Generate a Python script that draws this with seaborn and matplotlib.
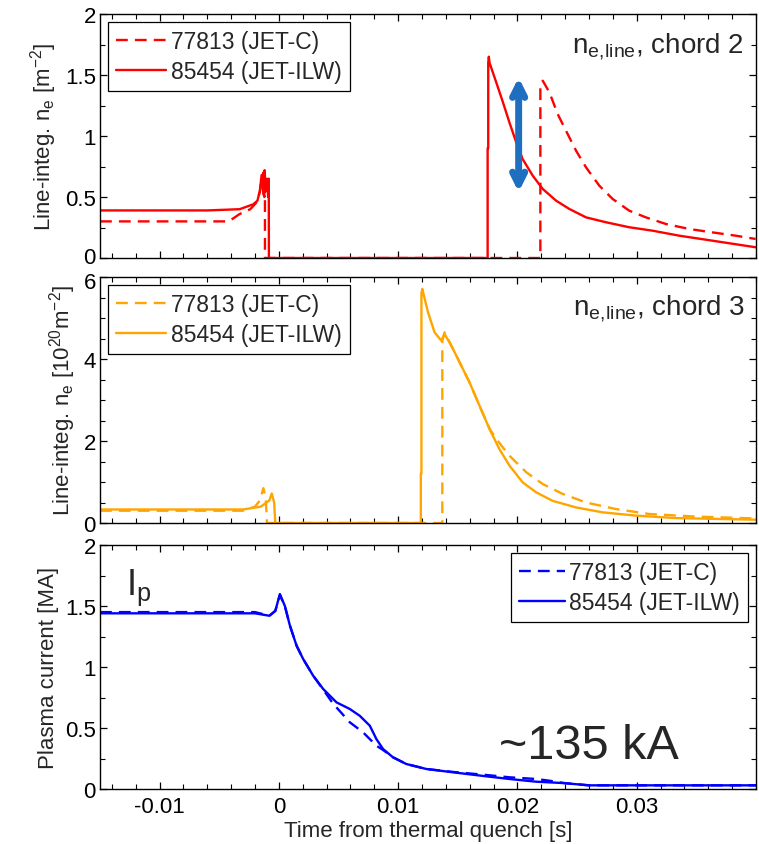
import matplotlib
matplotlib.use("Agg")
import matplotlib.pyplot as plt
import matplotlib.transforms as mtrans
import seaborn as sns
from matplotlib.ticker import MultipleLocator, FuncFormatter

# ---------------- data ----------------
# Panel 1: line-integrated density, chord 2
c2_t_ilw = [-0.015, -0.006, -0.0033, -0.00215, -0.0018, -0.0016, -0.00145, -0.0013, -0.0012, -0.0011, -0.0010,
            -0.0009, -0.00085, -0.00084,
            0.0175, 0.0175, 0.01755, 0.01755, 0.0176, 0.01766, 0.01822, 0.01877, 0.01933, 0.01989, 0.02044,
            0.02128, 0.02212, 0.02324, 0.02435, 0.02575, 0.02742, 0.02937, 0.03132, 0.03356, 0.03634, 0.03997]
c2_v_ilw = [0.39, 0.39, 0.40, 0.44, 0.47, 0.55, 0.68, 0.52, 0.72, 0.55, 0.65,
            0.50, 0.65, 0.0,
            0.0, 0.90, 0.90, 1.60, 1.65, 1.60, 1.44, 1.28, 1.11, 0.95, 0.81,
            0.675, 0.566, 0.470, 0.402, 0.333, 0.293, 0.252, 0.224, 0.183, 0.142, 0.088]
c2_t_c = [-0.015, -0.0042, -0.0033, -0.0024, -0.00187, -0.0016, -0.00145, -0.0013, -0.00122, -0.00117, -0.00117,
          0.02192, 0.02192, 0.02212, 0.02268, 0.02337, 0.02407, 0.02491, 0.02575, 0.02686, 0.02798, 0.02937,
          0.03077, 0.03244, 0.03439, 0.03634, 0.03830, 0.03997]
c2_v_c = [0.30, 0.30, 0.36, 0.40, 0.456, 0.54, 0.65, 0.70, 0.50, 0.60, 0.0,
          0.0, 1.40, 1.453, 1.358, 1.18, 1.043, 0.880, 0.743, 0.593, 0.484, 0.388,
          0.333, 0.279, 0.238, 0.210, 0.183, 0.156]

# Panel 2: line-integrated density, chord 3
c3_t_ilw = [-0.015, -0.003, -0.0015, -0.0008, -0.0006, -0.0004, -0.0003,
            0.0119, 0.0119, 0.01195, 0.01195, 0.01202, 0.0125, 0.01305, 0.01361, 0.01389, 0.01445, 0.01515,
            0.01598, 0.01682, 0.01766, 0.01849, 0.01933, 0.02044, 0.02156, 0.02295, 0.02491, 0.02714,
            0.02993, 0.03328, 0.03997]
c3_v_ilw = [0.33, 0.33, 0.40, 0.55, 0.72, 0.50, 0.0,
            0.0, 1.20, 1.20, 5.60, 5.71, 5.14, 4.65, 4.45, 4.61, 4.33, 3.92,
            3.43, 2.86, 2.29, 1.80, 1.40, 0.99, 0.75, 0.54, 0.38, 0.26,
            0.18, 0.12, 0.08]
c3_t_c = [-0.015, -0.003, -0.002, -0.0016, -0.0013, -0.0011, -0.0010,
          0.0137, 0.0137, 0.01389, 0.01445, 0.01515, 0.01598, 0.01682, 0.01766, 0.01822, 0.01933, 0.02073,
          0.02212, 0.02379, 0.02575, 0.02826, 0.03105, 0.03467, 0.03997]
c3_v_c = [0.30, 0.30, 0.40, 0.55, 0.85, 0.60, 0.0,
          0.0, 4.45, 4.65, 4.33, 3.92, 3.43, 2.86, 2.30, 2.05, 1.64, 1.24,
          0.95, 0.71, 0.50, 0.34, 0.22, 0.16, 0.11]

# Panel 3: plasma current
ip_t_ilw = [-0.015, -0.002, -0.0008, -0.0003, 0.00008, 0.0005, 0.00092, 0.00148, 0.00203, 0.00287, 0.00371,
            0.00483, 0.00594, 0.00678, 0.00762, 0.00817, 0.00873, 0.00956, 0.01068, 0.01236, 0.01459, 0.01738,
            0.01933, 0.02156, 0.02379, 0.0260, 0.0400]
ip_v_ilw = [1.44, 1.44, 1.42, 1.46, 1.598, 1.50, 1.34, 1.175, 1.066, 0.929, 0.820,
            0.71, 0.656, 0.60, 0.519, 0.41, 0.328, 0.26, 0.205, 0.164, 0.137, 0.104,
            0.082, 0.06, 0.049, 0.03, 0.03]
ip_t_c = [-0.015, -0.002, -0.0008, -0.0003, 0.00008, 0.0005, 0.00092, 0.00148, 0.00203, 0.00287, 0.00371,
          0.00454, 0.00594, 0.00706, 0.00817, 0.00873, 0.00956, 0.01068, 0.01236, 0.01459, 0.01738, 0.01933,
          0.02156, 0.02268, 0.0238, 0.0260, 0.0400]
ip_v_c = [1.45, 1.45, 1.42, 1.46, 1.59, 1.50, 1.34, 1.175, 1.066, 0.929, 0.815,
          0.70, 0.547, 0.464, 0.355, 0.32, 0.26, 0.205, 0.164, 0.14, 0.115, 0.096,
          0.082, 0.068, 0.05, 0.03, 0.03]

labels = ["77813 (JET-C)", "85454 (JET-ILW)"]
x_ticks = [-0.01, 0.0, 0.01, 0.02, 0.03]
arrow_t = 0.0201
arrow_span = [1.48, 0.54]

# ---------------- style ----------------
sns.set_style("ticks")
plt.rcParams["font.family"] = ["Liberation Sans", "DejaVu Sans"]
plt.rcParams["mathtext.fontset"] = "custom"
plt.rcParams["mathtext.rm"] = "Liberation Sans"
plt.rcParams["mathtext.it"] = "Liberation Sans:italic"
plt.rcParams["mathtext.bf"] = "Liberation Sans:bold"
plt.rcParams["axes.edgecolor"] = "black"
plt.rcParams["axes.linewidth"] = 1.0
plt.rcParams["xtick.color"] = "black"
plt.rcParams["ytick.color"] = "black"

FS_TICK = 16
FS_LAB = 16
FS_LEG = 16.5

fig = plt.figure(figsize=(7.59, 8.45), dpi=100)
L, R = 100 / 759, 756 / 759
W = R - L
def ax_at(top_px, bot_px):
    return fig.add_axes([L, 1 - bot_px / 845, W, (bot_px - top_px) / 845])

ax1 = ax_at(15, 259)
ax2 = ax_at(278, 524)
ax3 = ax_at(546, 790)

RED, ORANGE, BLUE = "#FF0000", "#FFA500", "#0000FF"
DASH = (5, 3)

def draw(ax, tc, vc, ti, vi, color):
    sns.lineplot(x=tc, y=vc, ax=ax, color=color, lw=1.7, estimator=None, sort=False,
                 label=labels[0], linestyle=(0, DASH))
    sns.lineplot(x=ti, y=vi, ax=ax, color=color, lw=1.7, estimator=None, sort=False,
                 label=labels[1])

draw(ax1, c2_t_c, c2_v_c, c2_t_ilw, c2_v_ilw, RED)
draw(ax2, c3_t_c, c3_v_c, c3_t_ilw, c3_v_ilw, ORANGE)
draw(ax3, ip_t_c, ip_v_c, ip_t_ilw, ip_v_ilw, BLUE)

fmt = FuncFormatter(lambda v, p: f"{round(v, 6):g}")
for ax, ymax, ymaj, ymin in [(ax1, 2, 0.5, 0.25), (ax2, 6, 2, 0.5), (ax3, 2, 0.5, 0.25)]:
    ax.set_xlim(-0.015, 0.040)
    ax.set_ylim(0, ymax)
    ax.set_xticks(x_ticks)
    ax.xaxis.set_minor_locator(MultipleLocator(0.002))
    ax.yaxis.set_major_locator(MultipleLocator(ymaj))
    ax.yaxis.set_minor_locator(MultipleLocator(ymin))
    ax.xaxis.set_major_formatter(fmt)
    ax.yaxis.set_major_formatter(fmt)
    ax.tick_params(which="both", direction="in", top=True, right=True, labelsize=FS_TICK)
    ax.tick_params(which="major", length=5, width=0.9)
    ax.tick_params(which="minor", length=3.5, width=0.8)
    ax.tick_params(axis="y", pad=3)
    ax.tick_params(axis="x", pad=5)
    ax.set_xlabel("")
    for s in ax.spines.values():
        s.set_visible(True)
        s.set_color("black")

ax1.tick_params(labelbottom=False)
ax2.tick_params(labelbottom=False)

ax1.set_ylabel(r"Line-integ. n$_{\mathrm{e}}$ [m$^{-2}$]", fontsize=FS_LAB, labelpad=4)
ax2.set_ylabel(r"Line-integ. n$_{\mathrm{e}}$ [10$^{20}$m$^{-2}$]", fontsize=FS_LAB, labelpad=4)
ax3.set_ylabel("Plasma current [MA]", fontsize=FS_LAB, labelpad=4)
ax3.set_xlabel("Time from thermal quench [s]", fontsize=FS_LAB, labelpad=2)

leg_kw = dict(fontsize=FS_LEG, frameon=True, fancybox=False, edgecolor="black", framealpha=1,
              labelspacing=0.3, handletextpad=0.2, borderpad=0.35, borderaxespad=0.35)
for ax in (ax1, ax2):
    lg = ax.legend(loc="upper left", handlelength=2.2, **leg_kw)
    lg.get_frame().set_linewidth(0.9)
lg = ax3.legend(loc="upper right", handlelength=2.0, **leg_kw)
lg.get_frame().set_linewidth(0.9)

ax1.text(0.982, 0.846, r"n$_{\mathrm{e,\!line}}$, chord 2", transform=ax1.transAxes,
         ha="right", va="baseline", fontsize=20)
ax2.text(0.984, 0.85, r"n$_{\mathrm{e,\!line}}$, chord 3", transform=ax2.transAxes,
         ha="right", va="baseline", fontsize=20)

ax1.annotate("", xy=(arrow_t, arrow_span[1]), xytext=(arrow_t, arrow_span[0]),
             arrowprops=dict(arrowstyle="<->", color="#1F6FC0", lw=5, mutation_scale=22,
                             shrinkA=0, shrinkB=0))

ax3.text(0.026, 0.25, "~135 kA", ha="center", va="baseline", fontsize=35)
ax3.text(-0.0128, 1.6, r"I$_{\mathrm{p}}$", ha="left", va="baseline", fontsize=26)

# nudge the touching "0" (top panel) and "6" (middle panel) tick labels slightly apart
fig.canvas.draw()
def nudge(ax, value, dy_pt):
    locs = list(ax.yaxis.get_majorticklocs())
    ticks = ax.yaxis.get_major_ticks(len(locs))
    for loc, tk in zip(locs, ticks):
        if abs(loc - value) < 1e-9:
            tk.label1.set_transform(tk.label1.get_transform() +
                                    mtrans.ScaledTranslation(0, dy_pt / 72, fig.dpi_scale_trans))
nudge(ax1, 0.0, 2.5)
nudge(ax2, 6.0, -2.5)

fig.savefig("out.png", dpi=100)
